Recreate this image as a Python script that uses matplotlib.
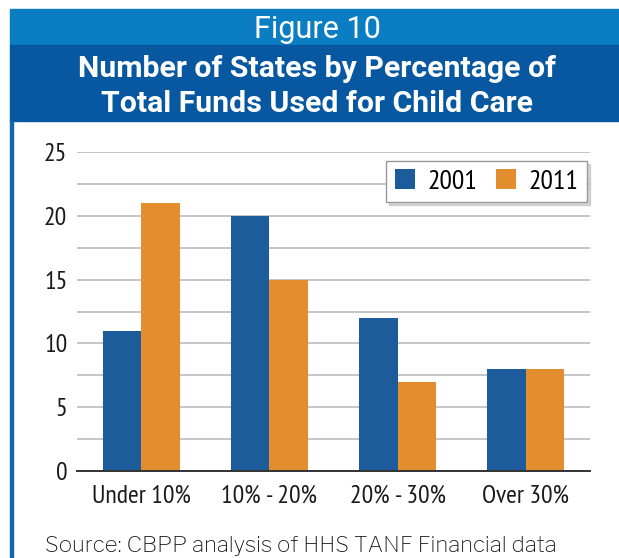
import matplotlib
matplotlib.use("Agg")
import matplotlib.pyplot as plt
from matplotlib.patches import Rectangle
import numpy as np

# === DATA ===
categories = ["Under 10%", "10% - 20%", "20% - 30%", "Over 30%"]
states_2001 = [11, 20, 12, 8]
states_2011 = [21, 15, 7, 8]
y_ticks = [0, 5, 10, 15, 20, 25]

# === STYLE ===
BLUE = "#1D5C9B"
ORANGE = "#E38E2E"
HEADER_LIGHT = "#0B7DC3"
HEADER_DARK = "#0758A0"
HEAD_FONT = ["Roboto", "DejaVu Sans"]
AXIS_FONT = ["PT Sans Narrow", "DejaVu Sans"]

W, H = 619, 558
fig = plt.figure(figsize=(W / 100, H / 100), dpi=100)

def fx(px):
    return px / W

def fy(py):
    return 1 - py / H

# header bands and left border
fig.patches.append(Rectangle((fx(10), fy(45)), 1 - fx(10), fy(9) - fy(45),
                             transform=fig.transFigure, color=HEADER_LIGHT, zorder=0))
fig.patches.append(Rectangle((fx(10), fy(121)), 1 - fx(10), fy(45) - fy(121),
                             transform=fig.transFigure, color=HEADER_DARK, zorder=0))
fig.patches.append(Rectangle((fx(10), 0), fx(3), fy(121),
                             transform=fig.transFigure, color="#1565AD", zorder=0))

fig.text(fx(317), fy(38), "Figure 10", color="white", fontsize=22,
         family=HEAD_FONT, ha="center", va="baseline")
fig.text(fx(317), fy(77), "Number of States by Percentage of", color="white",
         fontsize=21.8, fontweight="bold", family=HEAD_FONT, ha="center", va="baseline")
fig.text(fx(317), fy(112), "Total Funds Used for Child Care", color="white",
         fontsize=21.8, fontweight="bold", family=HEAD_FONT, ha="center", va="baseline")

# === BAR CHART ===
ax = fig.add_axes([fx(77), fy(471), fx(590) - fx(77), fy(152) - fy(471)])
x = np.arange(len(categories))
bw = 0.3
ax.bar(x - bw / 2, states_2001, bw, color=BLUE, label="2001", zorder=3)
ax.bar(x + bw / 2, states_2011, bw, color=ORANGE, label="2011", zorder=3)

ax.set_xlim(-0.5, 3.5)
ax.set_ylim(0, 25)
ax.set_yticks(y_ticks)
ax.set_yticks(np.arange(2.5, 25, 5), minor=True)
ax.grid(axis="y", which="both", color="#BBBBBB", linewidth=1.2, zorder=0)
for s in ["top", "right", "left"]:
    ax.spines[s].set_visible(False)
ax.spines["bottom"].set_color("#333333")
ax.spines["bottom"].set_linewidth(1.4)
ax.spines["bottom"].set_zorder(4)
ax.tick_params(axis="y", which="both", length=0, pad=7)
ax.tick_params(axis="x", length=0, pad=10)
ax.set_xticks(x)
ax.set_xticklabels(categories)
for lbl in ax.get_xticklabels() + ax.get_yticklabels():
    lbl.set_family(AXIS_FONT)
    lbl.set_fontsize(18.5)
    lbl.set_color("#1A1A1A")

leg = ax.legend(loc="upper right", bbox_to_anchor=(0.994, 0.972), ncol=2,
                prop={"family": AXIS_FONT, "size": 20}, frameon=True, fancybox=False,
                shadow={"color": "#BBBBBB", "alpha": 0.6}, handlelength=0.72,
                handleheight=0.72, columnspacing=0.7, handletextpad=0.45,
                borderpad=0.3, borderaxespad=0)
leg.get_frame().set_edgecolor("#999999")
leg.get_frame().set_linewidth(1.0)
leg.set_zorder(5)

fig.text(fx(45), fy(552), "Source: CBPP analysis of HHS TANF Financial data",
         fontsize=16, family=["Libre Franklin", "DejaVu Sans"], color="#1A1A1A",
         ha="left", va="baseline")

fig.savefig("out.png", dpi=100)
